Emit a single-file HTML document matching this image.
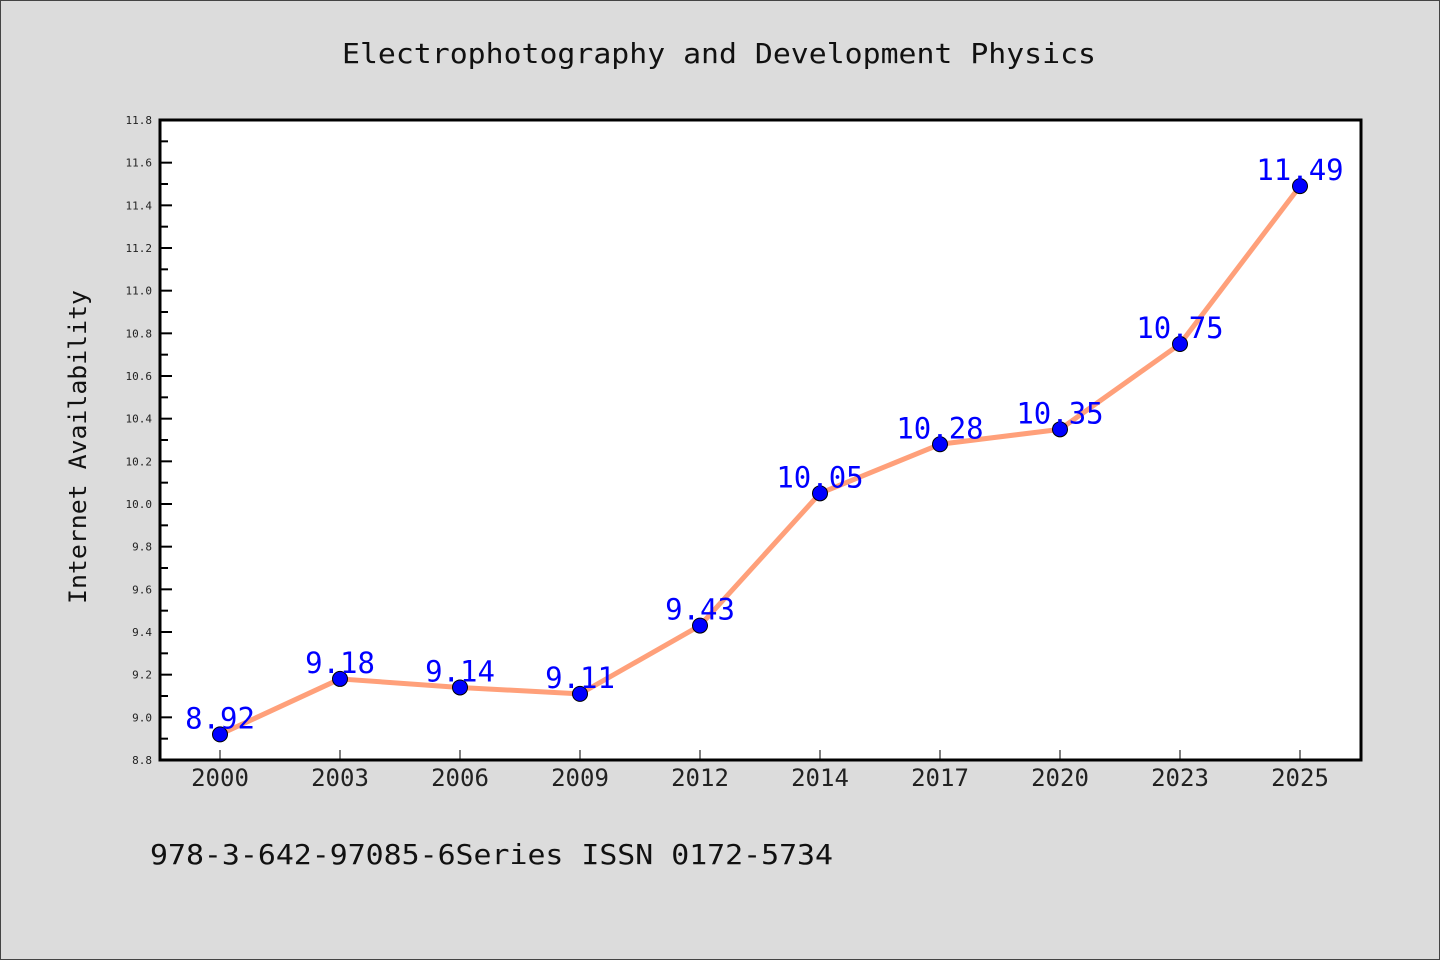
<!DOCTYPE html>
<html><head><meta charset="utf-8"><style>
html,body{margin:0;padding:0;background:#dcdcdc;}
svg{display:block;font-family:"DejaVu Sans Mono","Liberation Mono","Noto Sans CJK SC",monospace;}
</style></head><body>
<svg id="chart" width="1440" height="960">
<rect x="0.5" y="0.5" width="1439" height="959" fill="#dcdcdc" stroke="#444"/>
<text x="342" y="63" font-size="28" textLength="754" lengthAdjust="spacingAndGlyphs" fill="#111">Electrophotography and Development Physics</text>
<text x="150" y="864" font-size="28" textLength="683" lengthAdjust="spacingAndGlyphs" fill="#111">978-3-642-97085-6Series ISSN 0172-5734</text>
<text transform="translate(86,604) rotate(-90)" font-size="24" textLength="314" lengthAdjust="spacingAndGlyphs" fill="#111">Internet Availability</text>
<rect x="160" y="120" width="1201" height="640" fill="#fff"/>
<g id="ticks"></g>
<g id="marks"></g>
<rect x="160" y="120" width="1201" height="640" fill="none" stroke="#000" stroke-width="3"/>
</svg>
<script>
const categories=["2000","2003","2006","2009","2012","2014","2017","2020","2023","2025"];
const values=[8.92,9.18,9.14,9.11,9.43,10.05,10.28,10.35,10.75,11.49];
const yTicks=[8.8,9.0,9.2,9.4,9.6,9.8,10.0,10.2,10.4,10.6,10.8,11.0,11.2,11.4,11.6,11.8];
const yMin=8.8,yMax=11.8;
const NS="http://www.w3.org/2000/svg";
const X0=160,X1=1361,Y0=120,Y1=760;
function x(i){return 220+i*(1300-220)/(categories.length-1);}
function y(v){return Y1-(v-yMin)/(yMax-yMin)*(Y1-Y0);}
function mk(tag,attrs,parent){const e=document.createElementNS(NS,tag);for(const k in attrs)e.setAttribute(k,attrs[k]);parent.appendChild(e);return e;}
const tg=document.getElementById('ticks'),mg=document.getElementById('marks');
yTicks.forEach((t,i)=>{
  const yy=y(t);
  const l=mk('line',{x1:X0,x2:X0+12,y1:yy,y2:yy,stroke:'#000','stroke-width':2},tg);
  
  
  const lb=mk('text',{x:X0-8,y:yy+4,'text-anchor':'end','font-size':11,fill:'#222'},tg);
  lb.textContent=t.toFixed(1);
  
  
  if(i<yTicks.length-1){
    const ym=y(t+0.1);
    const m=mk('line',{x1:X0,x2:X0+8,y1:ym,y2:ym,stroke:'#000','stroke-width':2},tg);
    
    
  }
});
categories.forEach((c,i)=>{
  const xx=x(i);
  const l=mk('line',{x1:xx,x2:xx,y1:Y1,y2:Y1-10,stroke:'#000','stroke-width':1},tg);
  
  
  const lb=mk('text',{x:xx,y:786,'text-anchor':'middle','font-size':24,fill:'#222'},tg);
  lb.textContent=c;
  
  
});
const pts=values.map((v,i)=>x(i)+','+y(v)).join(' ');
const pl=mk('polyline',{points:pts,fill:'none',stroke:'#ffa07a','stroke-width':5,'stroke-linejoin':'round'},mg);


values.forEach((v,i)=>{
  const c=mk('circle',{cx:x(i),cy:y(v),r:7.5,fill:'#0000ff',stroke:'#000','stroke-width':1},mg);
  
  
  const t=mk('text',{x:x(i),y:y(v)-6,'text-anchor':'middle','font-size':29,fill:'#0000ff'},mg);
  t.textContent=v.toFixed(2);
  
  
});
</script>
</body></html>
